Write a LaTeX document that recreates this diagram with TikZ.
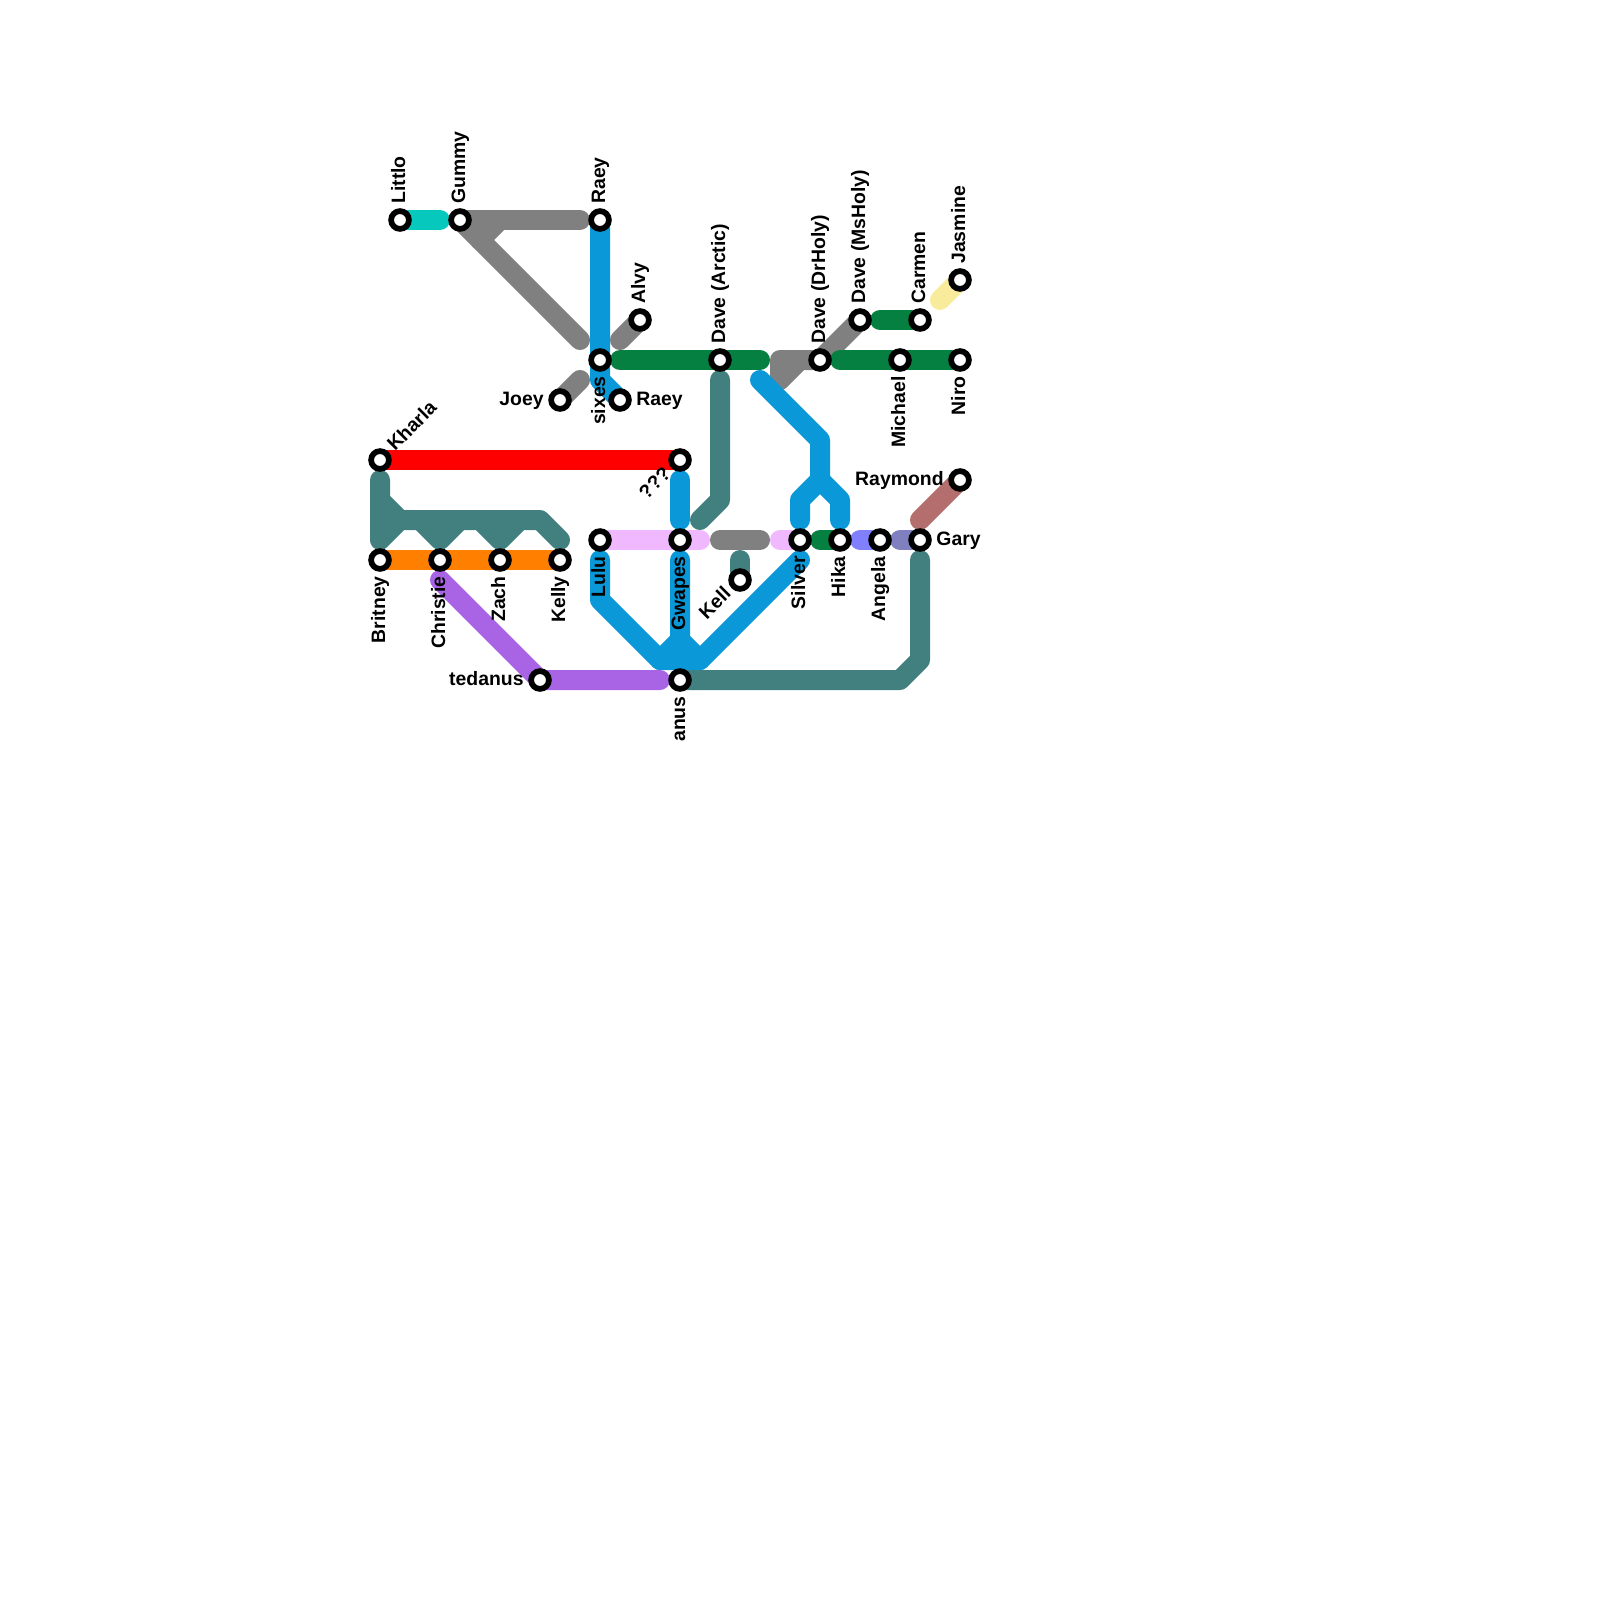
\documentclass[tikz,border=0pt]{standalone}
\usepackage{fontspec}
\setmainfont{Liberation Sans}
\usepackage{tikz}
\usetikzlibrary{backgrounds}
\definecolor{railcyan}{RGB}{7,200,189}
\definecolor{railgray}{RGB}{128,128,128}
\definecolor{railblue}{RGB}{10,152,216}
\definecolor{railgreen}{RGB}{5,128,64}
\definecolor{railteal}{RGB}{66,128,128}
\definecolor{railred}{RGB}{255,0,0}
\definecolor{railorange}{RGB}{255,128,0}
\definecolor{railpurple}{RGB}{168,100,228}
\definecolor{railpink}{RGB}{240,184,255}
\definecolor{railperi}{RGB}{128,128,255}
\definecolor{railmauve}{RGB}{128,128,192}
\definecolor{railbrown}{RGB}{180,110,110}
\definecolor{railyellow}{RGB}{248,236,156}
\tikzset{
  rail/.style={line width=10pt, line cap=round, line join=round},
  stn/.style={circle, draw=black, fill=white, line width=2.85pt,
    minimum size=8.9pt, inner sep=0pt},
  lbl/.style={font=\bfseries\fontsize{9.7pt}{10pt}\selectfont, inner sep=0pt,
    text height=5pt, text depth=0pt},
  lblup/.style={lbl, rotate=90, anchor=west, xshift=8pt},
  lbldown/.style={lbl, rotate=90, anchor=east, xshift=-8pt},
  lblleft/.style={lbl, anchor=east, xshift=-8pt},
  lblright/.style={lbl, anchor=west, xshift=8pt},
  lblne/.style={lbl, rotate=45, anchor=west, xshift=8pt},
  lblsw/.style={lbl, rotate=45, anchor=east, xshift=-8pt}
}
\begin{document}
\begin{tikzpicture}[x=10pt, y=-10pt]
  \useasboundingbox (0,0) rectangle (80,80);

  % stations
  \node[stn] (littlo) at (20,11) {};
  \node[stn] (gummy) at (23,11) {};
  \node[stn] (raeyn) at (30,11) {};
  \node[stn] (sixes) at (30,18) {};
  \node[stn] (alvy) at (32,16) {};
  \node[stn] (joey) at (28,20) {};
  \node[stn] (raeys) at (31,20) {};
  \node[stn] (kharla) at (19,23) {};
  \node[stn] (qqq) at (34,23) {};
  \node[stn] (arctic) at (36,18) {};
  \node[stn] (drholy) at (41,18) {};
  \node[stn] (msholy) at (43,16) {};
  \node[stn] (carmen) at (46,16) {};
  \node[stn] (jasmine) at (48,14) {};
  \node[stn] (michael) at (45,18) {};
  \node[stn] (niro) at (48,18) {};
  \node[stn] (britney) at (19,28) {};
  \node[stn] (christie) at (22,28) {};
  \node[stn] (zach) at (25,28) {};
  \node[stn] (kelly) at (28,28) {};
  \node[stn] (lulu) at (30,27) {};
  \node[stn] (gwapes) at (34,27) {};
  \node[stn] (silver) at (40,27) {};
  \node[stn] (hika) at (42,27) {};
  \node[stn] (angela) at (44,27) {};
  \node[stn] (gary) at (46,27) {};
  \node[stn] (raymond) at (48,24) {};
  \node[stn] (kell) at (37,29) {};
  \node[stn] (tedanus) at (27,34) {};
  \node[stn] (anus) at (34,34) {};

  % labels
  \node[lblup] (littlolbl) at (littlo.center) {Littlo};
  \node[lblup] (gummylbl) at (gummy.center) {Gummy};
  \node[lblup] (raeynlbl) at (raeyn.center) {Raey};
  \node[lbldown] (sixeslbl) at (sixes.center) {sixes};
  \node[lblup] (alvylbl) at (alvy.center) {Alvy};
  \node[lblleft] (joeylbl) at (joey.center) {Joey};
  \node[lblright] (raeyslbl) at (raeys.center) {Raey};
  \node[lblne] (kharlalbl) at (kharla.center) {Kharla};
  \node[lblsw] (qqqlbl) at (qqq.center) {???};
  \node[lblup] (arcticlbl) at (arctic.center) {Dave (Arctic)};
  \node[lblup] (drholylbl) at (drholy.center) {Dave (DrHoly)};
  \node[lblup] (msholylbl) at (msholy.center) {Dave (MsHoly)};
  \node[lblup] (carmenlbl) at (carmen.center) {Carmen};
  \node[lblup] (jasminelbl) at (jasmine.center) {Jasmine};
  \node[lbldown] (michaellbl) at (michael.center) {Michael};
  \node[lbldown] (nirolbl) at (niro.center) {Niro};
  \node[lbldown] (britneylbl) at (britney.center) {Britney};
  \node[lbldown] (christielbl) at (christie.center) {Christie};
  \node[lbldown] (zachlbl) at (zach.center) {Zach};
  \node[lbldown] (kellylbl) at (kelly.center) {Kelly};
  \node[lbldown] (lululbl) at (lulu.center) {Lulu};
  \node[lbldown] (gwapeslbl) at (gwapes.center) {Gwapes};
  \node[lbldown] (silverlbl) at (silver.center) {Silver};
  \node[lbldown] (hikalbl) at (hika.center) {Hika};
  \node[lbldown] (angelalbl) at (angela.center) {Angela};
  \node[lblright] (garylbl) at (gary.center) {Gary};
  \node[lblleft] (raymondlbl) at (raymond.center) {Raymond};
  \node[lblsw] (kelllbl) at (kell.center) {Kell};
  \node[lblleft] (tedanuslbl) at (tedanus.center) {tedanus};
  \node[lbldown] (anuslbl) at (anus.center) {anus};

  % free ends and bends of the rails
  \coordinate (cyanend) at (22,11);
  \coordinate (grayend) at (29,11);
  \coordinate (graydiag) at (29,17);
  \coordinate (graystuba) at (25,11);
  \coordinate (graystubb) at (24,12);
  \coordinate (alvyend) at (31,17);
  \coordinate (joeyend) at (29,19);
  \coordinate (sixesbend) at (30,19);
  \coordinate (greena) at (31,18);
  \coordinate (greenb) at (38,18);
  \coordinate (grayc) at (39,18);
  \coordinate (grayd) at (39,19);
  \coordinate (graye) at (40,18);
  \coordinate (greenc) at (42,18);
  \coordinate (greend) at (44,16);
  \coordinate (yellowend) at (47,15);
  \coordinate (graymida) at (36,27);
  \coordinate (graymidb) at (38,27);
  \coordinate (greene) at (41,27);
  \coordinate (tealtop) at (19,24);
  \coordinate (tealfoot) at (19,27);
  \coordinate (tealknee) at (19,25);
  \coordinate (tealhipa) at (20,26);
  \coordinate (tealhipb) at (27,26);
  \coordinate (tealend) at (28,27);
  \coordinate (toothal) at (21,26);
  \coordinate (toothat) at (22,27);
  \coordinate (toothar) at (23,26);
  \coordinate (toothbl) at (24,26);
  \coordinate (toothbt) at (25,27);
  \coordinate (toothbr) at (26,26);
  \coordinate (arctica) at (36,19);
  \coordinate (arcticb) at (36,25);
  \coordinate (arcticc) at (35,26);
  \coordinate (kelltop) at (37,28);
  \coordinate (garya) at (46,28);
  \coordinate (garyb) at (46,33);
  \coordinate (garyc) at (45,34);
  \coordinate (pinka) at (35,27);
  \coordinate (pinkb) at (39,27);
  \coordinate (perend) at (43,27);
  \coordinate (mauveend) at (45,27);
  \coordinate (brownend) at (46,26);
  \coordinate (bluea) at (38,19);
  \coordinate (blueb) at (41,22);
  \coordinate (bluec) at (41,24);
  \coordinate (blued) at (40,25);
  \coordinate (bluee) at (40,26);
  \coordinate (bluef) at (42,25);
  \coordinate (blueg) at (42,26);
  \coordinate (qqqa) at (34,24);
  \coordinate (qqqb) at (34,26);
  \coordinate (lulua) at (30,28);
  \coordinate (lulub) at (30,30);
  \coordinate (luluc) at (33,33);
  \coordinate (silvera) at (35,33);
  \coordinate (silverb) at (40,28);
  \coordinate (gwapesa) at (34,28);
  \coordinate (gwapesb) at (34,32);
  \coordinate (purplea) at (22,29);
  \coordinate (purpleb) at (33,34);

  \begin{pgfonlayer}{background}
    \draw[rail, railcyan] (littlo.center) -- (cyanend);
    \draw[rail, railgray] (gummy.center) -- (grayend);
    \draw[rail, railgray] (gummy.center) -- (graydiag);
    \draw[rail, railgray] (graystuba) -- (graystubb);
    \draw[rail, railgray] (alvyend) -- (alvy.center);
    \draw[rail, railgray] (joey.center) -- (joeyend);
    \draw[rail, railgray] (drholy.center) -- (grayc) -- (grayd) -- (graye);
    \draw[rail, railgray] (msholy.center) -- (drholy.center);
    \draw[rail, railgray] (graymida) -- (graymidb);
    \draw[rail, railgreen] (greena) -- (arctic.center) -- (greenb);
    \draw[rail, railgreen] (greenc) -- (michael.center) -- (niro.center);
    \draw[rail, railgreen] (greend) -- (carmen.center);
    \draw[rail, railgreen] (greene) -- (hika.center);
    \draw[rail, railyellow] (jasmine.center) -- (yellowend);
    \draw[rail, railred] (kharla.center) -- (qqq.center);
    \draw[rail, railorange] (britney.center) -- (kelly.center);
    \draw[rail, railteal] (tealtop) -- (tealfoot) -- (tealhipa) -- (tealhipb) -- (tealend);
    \draw[rail, railteal] (tealknee) -- (tealhipa);
    \draw[rail, railteal] (toothal) -- (toothat) -- (toothar);
    \draw[rail, railteal] (toothbl) -- (toothbt) -- (toothbr);
    \draw[rail, railteal] (arctica) -- (arcticb) -- (arcticc);
    \draw[rail, railteal] (kelltop) -- (kell.center);
    \draw[rail, railteal] (garya) -- (garyb) -- (garyc) -- (anus.center);
    \draw[rail, railpink] (lulu.center) -- (pinka);
    \draw[rail, railpink] (pinkb) -- (silver.center);
    \draw[rail, railperi] (perend) -- (angela.center);
    \draw[rail, railmauve] (mauveend) -- (gary.center);
    \draw[rail, railbrown] (raymond.center) -- (brownend);
    \draw[rail, railblue] (raeyn.center) -- (sixesbend) -- (raeys.center);
    \draw[rail, railblue] (bluea) -- (blueb) -- (bluec) -- (blued) -- (bluee);
    \draw[rail, railblue] (bluec) -- (bluef) -- (blueg);
    \draw[rail, railblue] (qqqa) -- (qqqb);
    \draw[rail, railblue] (lulua) -- (lulub) -- (luluc) -- (silvera) -- (silverb);
    \draw[rail, railblue] (gwapesa) -- (gwapesb) -- (luluc);
    \draw[rail, railblue] (gwapesb) -- (silvera);
    \draw[rail, railpurple] (purplea) -- (tedanus.center) -- (purpleb);
  \end{pgfonlayer}
\end{tikzpicture}
\end{document}
